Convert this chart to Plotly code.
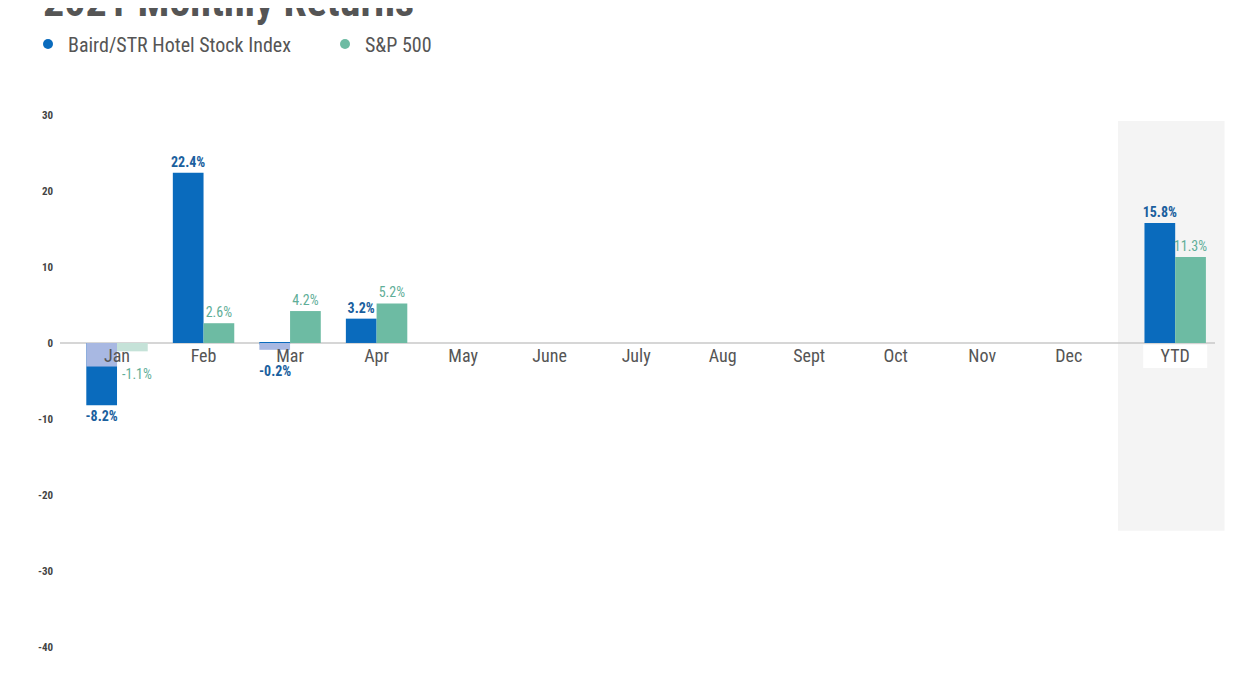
import plotly.graph_objects as go

# chart data
months = ["Jan", "Feb", "Mar", "Apr", "May", "June", "July", "Aug",
          "Sept", "Oct", "Nov", "Dec", "YTD"]
baird = [-8.2, 22.4, -0.2, 3.2, None, None, None, None, None, None, None, None, 15.8]
sp500 = [-1.1, 2.6, 4.2, 5.2, None, None, None, None, None, None, None, None, 11.3]
# faded top part of some bars in the original picture
baird_faded = [-3.1, None, -0.9, None, None, None, None, None, None, None, None, None, None]
y_ticks = [30, 20, 10, 0, -10, -20, -30, -40]

BLUE = "#0a6bbd"
TEAL = "#6dbba3"
FONT = "Roboto Condensed, Roboto, sans-serif"

# month positions: YTD is set a bit apart from Dec
xpos = list(range(12)) + [12.23]
w = 0.355


def fmt(v):
    return "" if v is None else f"{v:.1f}%"


def small_neg(v):
    return v is not None and -2 < v < 0


sp_colors = ["#c5e2d8"] + [TEAL] * (len(months) - 1)

fig = go.Figure()

fig.add_trace(go.Bar(
    x=xpos, y=baird, width=w, offset=-w,
    marker=dict(color=BLUE, line=dict(width=0)),
    text=["" if small_neg(v) else fmt(v) for v in baird],
    textposition="outside", constraintext="none",
    textfont=dict(family=FONT, size=14, color="#1a5f9e", weight="bold"),
    cliponaxis=False, showlegend=False, hoverinfo="skip",
))
fig.add_trace(go.Bar(
    x=xpos, y=baird_faded, width=w, offset=-w,
    marker=dict(color="#a8b8e2", line=dict(width=0)),
    showlegend=False, hoverinfo="skip",
))
fig.add_trace(go.Bar(
    x=xpos, y=sp500, width=w, offset=0,
    marker=dict(color=sp_colors, line=dict(width=0)),
    text=["" if small_neg(v) else fmt(v) for v in sp500],
    textposition="outside", constraintext="none",
    textfont=dict(family=FONT, size=14, color="#5fae98"),
    cliponaxis=False, showlegend=False, hoverinfo="skip",
))

# small negative values: labels sit below the month names
for xp, v in zip(xpos, baird):
    if small_neg(v):
        fig.add_annotation(x=xp - w / 2, y=v, text=fmt(v), showarrow=False,
                           yanchor="top", yshift=-17,
                           font=dict(family=FONT, size=14, color="#1a5f9e", weight="bold"))
for xp, v in zip(xpos, sp500):
    if small_neg(v):
        fig.add_annotation(x=xp + w / 2 + 0.05, y=v, text=fmt(v), showarrow=False,
                           yanchor="top", yshift=-13,
                           font=dict(family=FONT, size=14, color="#5fae98"))

# legend entries with round markers
fig.add_trace(go.Scatter(x=[None], y=[None], mode="markers", name="Baird/STR Hotel Stock Index",
                         marker=dict(color=BLUE, size=10)))
fig.add_trace(go.Scatter(x=[None], y=[None], mode="markers", name="S&P 500",
                         marker=dict(color=TEAL, size=10)))

# shaded YTD column
fig.add_shape(type="rect", xref="x", yref="y", x0=11.57, x1=12.80, y0=-24.7, y1=29.2,
              fillcolor="#f4f4f4", line=dict(width=0), layer="below")
fig.add_shape(type="rect", xref="x", yref="y", x0=11.86, x1=12.60, y0=-0.25, y1=-3.3,
              fillcolor="white", line=dict(width=0), layer="below")
# zero line
fig.add_shape(type="line", xref="x", yref="y", x0=-0.659, x1=12.69, y0=0, y1=0,
              line=dict(color="#c8c8c8", width=1.5), layer="below")

# title, partly cut off at the top like the source
fig.add_annotation(text="<b>2021 Monthly Returns</b>", xref="paper", yref="paper",
                   x=-19 / 1187, y=1 + 72 / 570, xanchor="left", yanchor="bottom",
                   showarrow=False, font=dict(family=FONT, size=42, color="#555555"))

fig.update_layout(
    width=1245, height=700,
    margin=dict(l=52, r=6, t=92, b=38),
    paper_bgcolor="white", plot_bgcolor="white",
    barmode="overlay",
    font=dict(family=FONT, color="#555555"),
    legend=dict(orientation="h", x=20 / 1245, xref="container", xanchor="left",
                y=1 - 36 / 700, yref="container", yanchor="middle",
                font=dict(family=FONT, size=20, color="#555555"),
                entrywidth=252, entrywidthmode="pixels", itemwidth=30),
    xaxis=dict(range=[-0.659, 13.06], tickvals=xpos, ticktext=months,
               showgrid=False, zeroline=False, showline=False, ticks="",
               anchor="free", position=43.03 / 75.0,
               tickfont=dict(family=FONT, size=18, color="#555555")),
    yaxis=dict(range=[-43.03, 31.97], tickvals=y_ticks, ticktext=[str(v) for v in y_ticks],
               showgrid=False, zeroline=False, showline=False, ticks="", ticklabelstandoff=6,
               tickfont=dict(family=FONT, size=11, color="#444444", weight="bold")),
)

fig.write_html("out.html")
